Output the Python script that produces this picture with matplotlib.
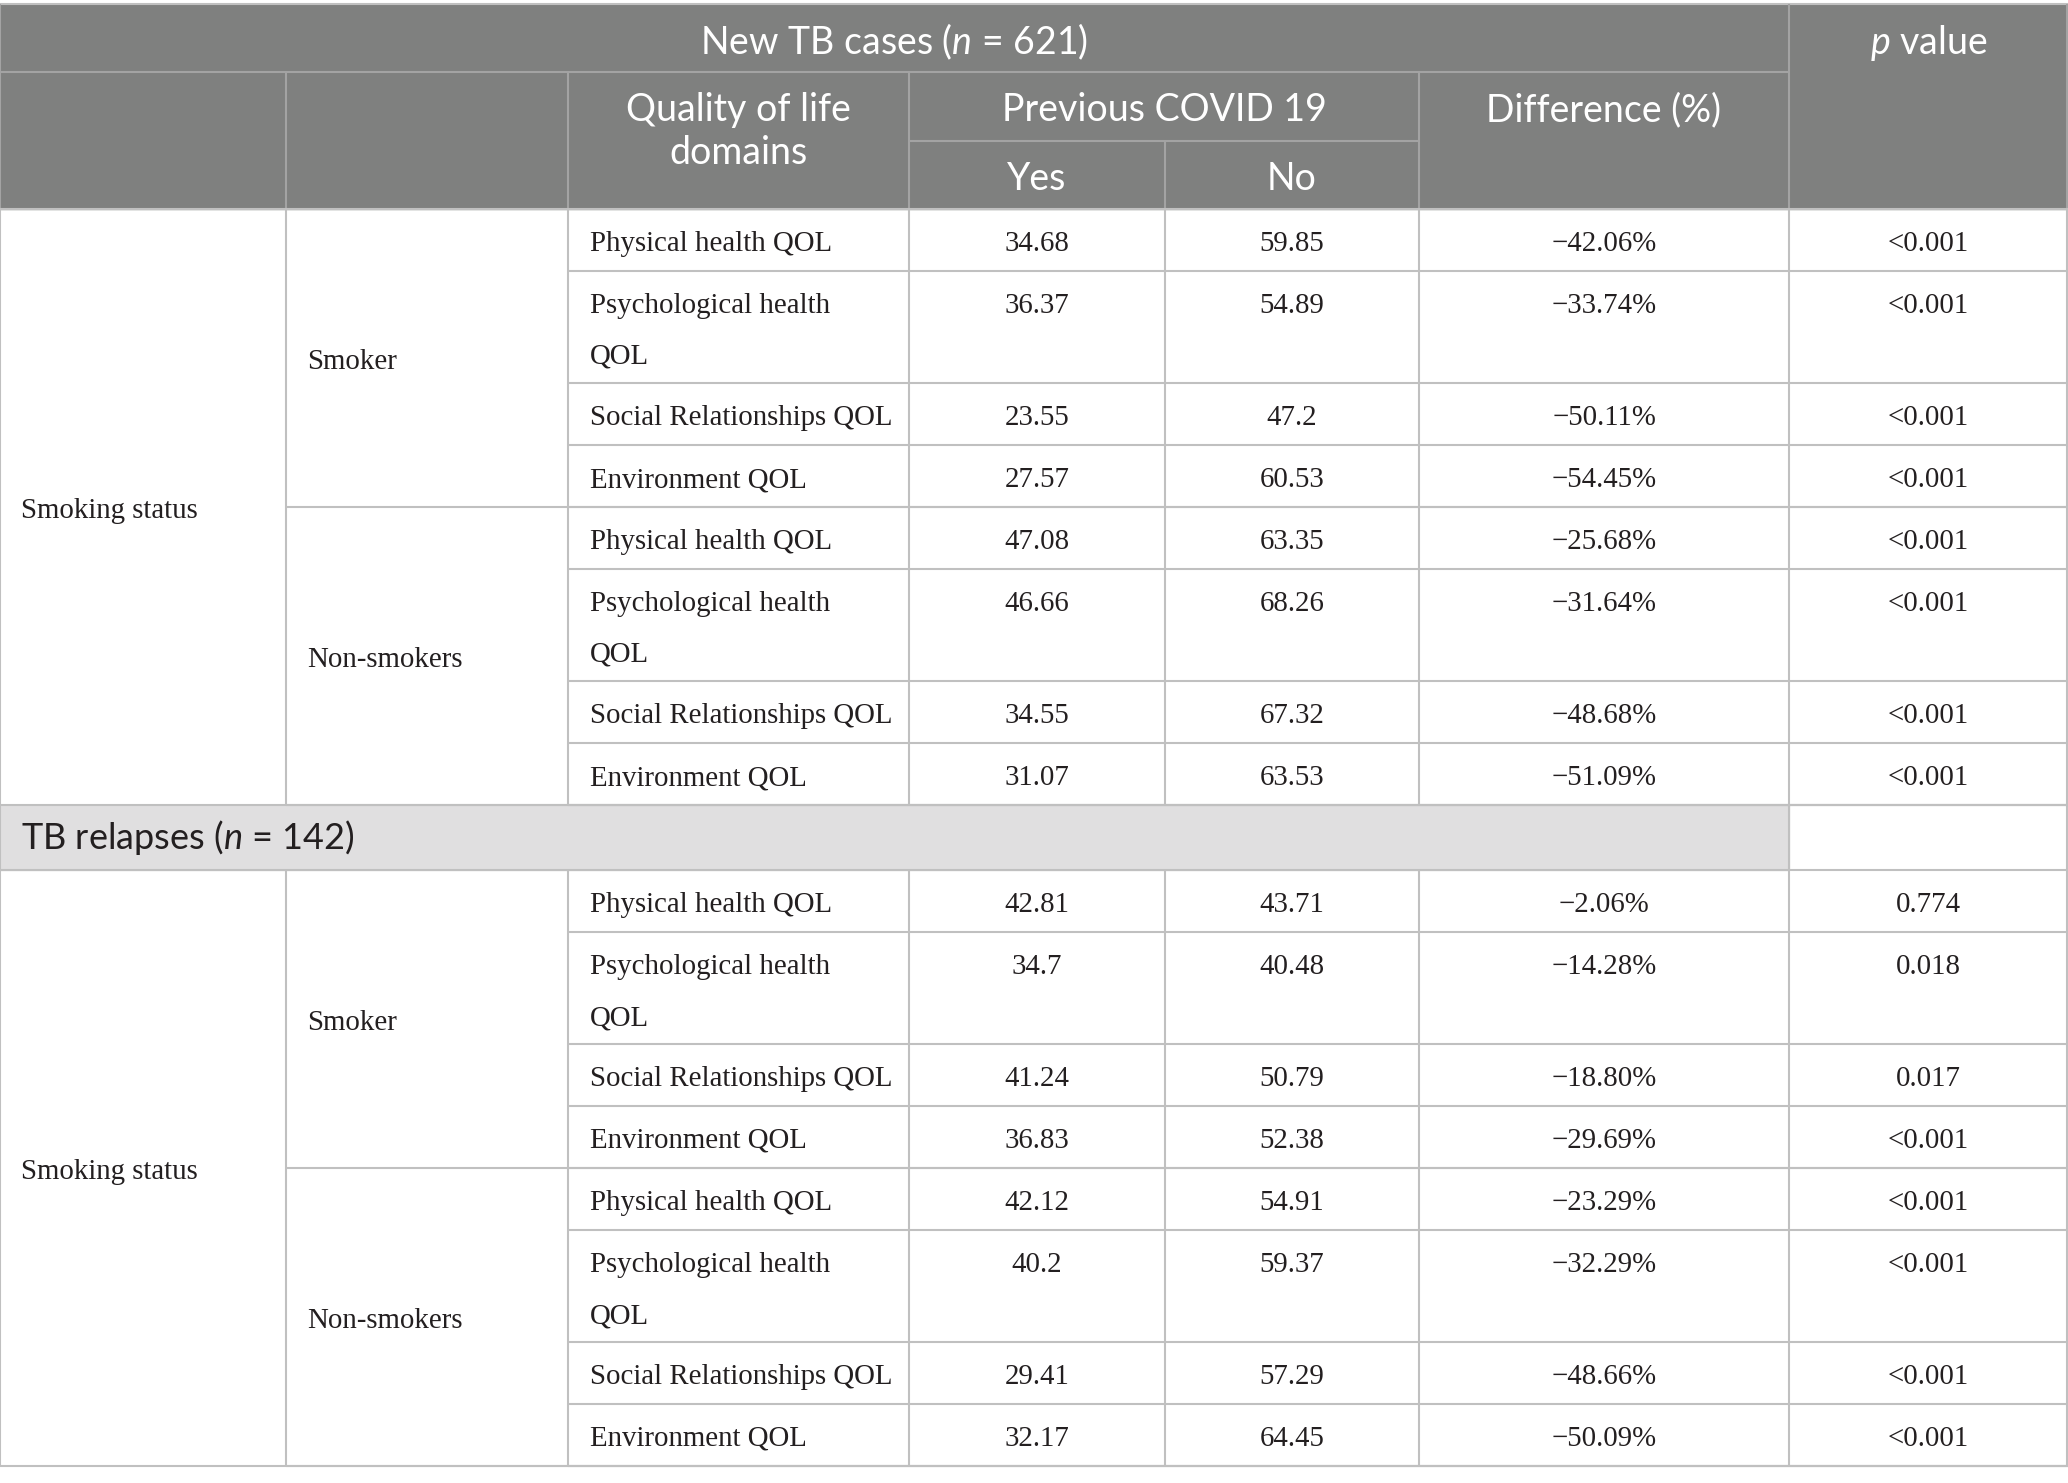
import matplotlib.pyplot as plt
from matplotlib.patches import Rectangle

plt.rcParams['mathtext.fontset'] = 'custom'
plt.rcParams['mathtext.rm'] = 'Lato'
plt.rcParams['mathtext.it'] = 'Lato:italic'

# table content
domains = ['Physical health QOL', 'Psychological health\nQOL',
           'Social Relationships QOL', 'Environment QOL']
groups = ['Smoker', 'Non-smokers']

new_yes = [['34.68', '36.37', '23.55', '27.57'], ['47.08', '46.66', '34.55', '31.07']]
new_no = [['59.85', '54.89', '47.2', '60.53'], ['63.35', '68.26', '67.32', '63.53']]
new_diff = [['−42.06%', '−33.74%', '−50.11%', '−54.45%'],
            ['−25.68%', '−31.64%', '−48.68%', '−51.09%']]
new_p = [['<0.001'] * 4, ['<0.001'] * 4]

rel_yes = [['42.81', '34.7', '41.24', '36.83'], ['42.12', '40.2', '29.41', '32.17']]
rel_no = [['43.71', '40.48', '50.79', '52.38'], ['54.91', '59.37', '57.29', '64.45']]
rel_diff = [['−2.06%', '−14.28%', '−18.80%', '−29.69%'],
            ['−23.29%', '−32.29%', '−48.66%', '−50.09%']]
rel_p = [['0.774', '0.018', '0.017', '<0.001'], ['<0.001'] * 4]

new_title = 'New TB cases ($n$ = 621)'
rel_title = 'TB relapses ($n$ = 142)'

# layout (pixels)
W, H = 2068, 1483
cols = [0, 286, 568, 909, 1165, 1419, 1789, 2068]
row_h = [62, 112, 62, 62]
HEAD_GRAY = '#7f807f'
HEAD_LINE = '#a3a3a3'
GRID = '#c0c0c0'
TXT = '#231f20'
SANS = 'Lato'
SERIF = 'Liberation Serif'
FS_HEAD = 27
FS_BODY = 20.8

fig = plt.figure(figsize=(W / 100, H / 100), dpi=100)
ax = fig.add_axes([0, 0, 1, 1])
ax.set_xlim(0, W)
ax.set_ylim(H, 0)
ax.axis('off')


def hline(y, x0, x1, c=GRID):
    ax.plot([x0, x1], [y, y], color=c, lw=1.5, solid_capstyle='butt', zorder=3)


def vline(x, y0, y1, c=GRID):
    ax.plot([x, x], [y0, y1], color=c, lw=1.5, solid_capstyle='butt', zorder=3)


def lines(x, y, s, step, **kw):
    # one text per line so every line sits on its own baseline
    for k, part in enumerate(s.split('\n')):
        ax.text(x, y + k * step, part, **kw)


# header
top, h1, h2, hb = 4, 72, 141, 209
ax.add_patch(Rectangle((0, top), W, hb - top, color=HEAD_GRAY, zorder=1))
hline(top, 0, W, GRID)
hline(h1, 0, cols[6], HEAD_LINE)
hline(h2, cols[3], cols[5], HEAD_LINE)
vline(cols[6], top, hb, HEAD_LINE)
for x in [cols[1], cols[2], cols[3], cols[5]]:
    vline(x, h1, hb, HEAD_LINE)
vline(cols[4], h2, hb, HEAD_LINE)
vline(0, top, hb, HEAD_LINE)
vline(W - 1, top, hb, HEAD_LINE)

hk = dict(color='white', fontsize=FS_HEAD, family=SANS, ha='center', va='baseline')
ax.text(cols[6] / 2, top + 50, new_title, **hk)
ax.text((cols[6] + cols[7]) / 2, top + 50, '$p$ value', **hk)
lines((cols[2] + cols[3]) / 2, h1 + 49, 'Quality of life\ndomains', 43, **hk)
ax.text((cols[3] + cols[5]) / 2, h1 + 49, 'Previous COVID 19', **hk)
ax.text((cols[5] + cols[6]) / 2, h1 + 49, 'Difference (%)', **hk)
ax.text((cols[3] + cols[4]) / 2, h2 + 49, 'Yes', **hk)
ax.text((cols[4] + cols[5]) / 2, h2 + 49, 'No', **hk)

bk = dict(color=TXT, fontsize=FS_BODY, family=SERIF, va='baseline')


def section(y0, yes, no, diff, pv):
    y = y0
    hline(y0, 0, W)
    for g, name in enumerate(groups):
        gy0 = y
        for i, dom in enumerate(domains):
            lines(cols[2] + 22, y + 42, dom, 51, **bk)
            ax.text((cols[3] + cols[4]) / 2, y + 42, yes[g][i], ha='center', **bk)
            ax.text((cols[4] + cols[5]) / 2, y + 42, no[g][i], ha='center', **bk)
            ax.text((cols[5] + cols[6]) / 2, y + 42, diff[g][i], ha='center', **bk)
            ax.text((cols[6] + cols[7]) / 2, y + 42, pv[g][i], ha='center', **bk)
            y += row_h[i]
            hline(y, cols[2], W)
        hline(y, cols[1], W)
        ax.text(cols[1] + 21, (gy0 + y) / 2 + 1, name, color=TXT, fontsize=FS_BODY,
                family=SERIF, va='center_baseline')
    hline(y, 0, W)
    for x in cols:
        vline(min(x, W - 1), y0, y)
    ax.text(21, (y0 + y) / 2 + 1, 'Smoking status', color=TXT, fontsize=FS_BODY,
            family=SERIF, va='center_baseline')
    return y


y = section(hb, new_yes, new_no, new_diff, new_p)
ax.add_patch(Rectangle((0, y), cols[6], 65, color='#e0dfe0', zorder=1))
ax.text(21, y + 44, rel_title, color=TXT, fontsize=FS_HEAD - 1, family=SANS, va='baseline')
vline(0, y, y + 65)
vline(cols[6], y, y + 65)
vline(W - 1, y, y + 65)
y = section(y + 65, rel_yes, rel_no, rel_diff, rel_p)

fig.savefig('out.png', dpi=100, facecolor='white')
